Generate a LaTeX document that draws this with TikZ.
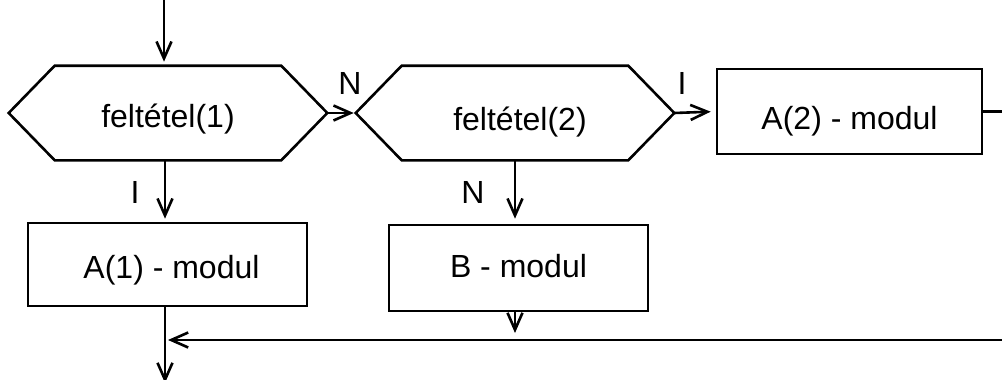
\documentclass[tikz,border=0pt]{standalone}
\usepackage{fontspec}
\setmainfont{Liberation Sans}
\usetikzlibrary{arrows.meta,calc}
\begin{document}
\begin{tikzpicture}[x=1pt,y=-1pt,
  line width=2.6pt,
  font=\fontsize{32}{38}\selectfont,
  flow/.style={-{Straight Barb[length=17pt,width=15pt]}},
  modbox/.style={draw,rectangle,inner sep=0pt,text depth=0pt},
  cond/.style={rectangle,inner sep=0pt,text depth=0pt,minimum width=316pt,minimum height=92pt},
  lbl/.style={inner sep=0pt}]
\useasboundingbox (0,0) rectangle (1002,380);
\clip (0,0) rectangle (1002,380);

% decision nodes (hexagons drawn from their anchors)
\node[cond,text height=28pt] (h1) at (168,113) {feltétel(1)};
\node[cond,text height=34pt] (h2) at (515,113) {\hspace{10pt}feltétel(2)};
\foreach \h in {h1,h2}{
  \draw (\h.west) -- ($(\h.north west)+(46,0)$) -- ($(\h.north east)+(-46,0)$)
    -- (\h.east) -- ($(\h.south east)+(-46,0)$) -- ($(\h.south west)+(46,0)$) -- cycle;
}

% process boxes
\node[modbox,text height=36pt,minimum width=265pt,minimum height=85pt] (a2) at (849.5,111.5) {A(2) - modul\hspace{8pt}};
\node[modbox,text height=27pt,minimum width=279pt,minimum height=83pt] (a1) at (167.5,264.5) {\hspace{8pt}A(1) - modul};
\node[modbox,text height=19pt,minimum width=259pt,minimum height=86pt] (b) at (518.5,268) {B - modul};

% branch labels
\node[lbl] (n1) at (350,83) {N};
\node[lbl] (i2) at (682,83) {I};
\node[lbl] (i1) at (135,192) {I};
\node[lbl] (n2) at (473,192) {N};

% free ends
\coordinate (entry) at (164,-5);
\coordinate (exit) at (165,383);
\coordinate (join) at (168,340);
\coordinate (bend) at (1020,340);

% connectors
\draw[flow,shorten >=4pt] (entry) -- (h1.north -| entry);
\draw[flow,shorten >=2pt] (h1.east) -- (h2.west);
\draw[flow,shorten >=5pt] (h2.east) -- (a2.west);
\draw[flow,shorten >=3pt] (h1.south -| exit) -- (a1.north -| exit);
\draw[flow,shorten >=5pt] (h2.south) -- (h2.south |- b.north);
\draw (a2.east) -- (bend |- a2.east) -- (bend);
\draw[flow] (bend) -- (join);
\draw[flow,shorten >=7pt] (b.south -| h2.south) -- (join -| h2.south);
\draw[flow] (a1.south -| exit) -- (exit);
\end{tikzpicture}
\end{document}
